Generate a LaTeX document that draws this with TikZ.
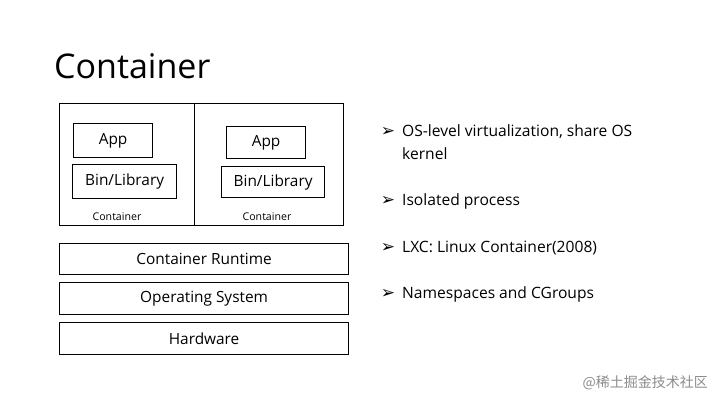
\documentclass[tikz,border=0pt]{standalone}
\usepackage{fontspec}
\setmainfont{Open Sans}
\newfontfamily\cjk{Noto Sans CJK SC}
\newfontfamily\dejavu{DejaVu Sans}
\begin{document}
\begin{tikzpicture}[x=1pt,y=-1pt,
  box/.style={draw=black,line width=1.2pt,inner sep=0pt,anchor=north west},
  lbl/.style={font=\fontsize{15.4}{17}\selectfont,text=black},
  small/.style={font=\fontsize{10.6}{12}\selectfont,text=black},
  bultxt/.style={anchor=west,font=\fontsize{15.6}{18}\selectfont,inner sep=0pt,text=black},
]
\useasboundingbox[fill=white] (0,0) rectangle (720,405);
\node[anchor=base west,font=\fontsize{34}{40}\selectfont,inner sep=0pt] (title) at (54,78) {Container};

\node[box,minimum width=284pt,minimum height=122pt] (outer) at (59,103) {};
\coordinate (dtop) at (194,103);
\coordinate (dbot) at (194,225);
\draw[line width=0.8pt] (dtop) -- (dbot);

\node[box,minimum width=79pt,minimum height=34pt,lbl] (app1) at (73,123) {App};
\node[box,minimum width=104pt,minimum height=34pt,lbl] (bin1) at (72,164) {Bin/Library};
\node[box,minimum width=79pt,minimum height=32pt,lbl] (app2) at (226,126) {App};
\node[box,minimum width=103pt,minimum height=31pt,lbl] (bin2) at (221,166) {Bin/Library};
\node[small] (c1) at (117,217) {Container};
\node[small] (c2) at (267,217) {Container};

\node[box,minimum width=289pt,minimum height=31pt,lbl] (rt) at (59,243) {Container Runtime};
\node[box,minimum width=289pt,minimum height=32pt,lbl] (os) at (59,282) {Operating System};
\node[box,minimum width=289pt,minimum height=32pt,lbl] (hw) at (59,322) {Hardware};

\foreach \y/\t [count=\i] in {132/{OS-level virtualization, share OS},201/{Isolated process},248/{LXC: Linux Container(2008)},294/{Namespaces and CGroups}}{
  \node[anchor=center,font=\dejavu\fontsize{17}{18}\selectfont,inner sep=0pt] (b\i) at (388,\y) {➢};
  \node[bultxt] (t\i) at (402,\y) {\t};
}
\node[bultxt] (t1b) at (402,154) {kernel};

\node[anchor=east,font=\cjk\fontsize{14}{16}\selectfont,text=black!45,inner sep=0pt] (wm) at (708,383) {@稀土掘金技术社区};
\end{tikzpicture}
\end{document}
